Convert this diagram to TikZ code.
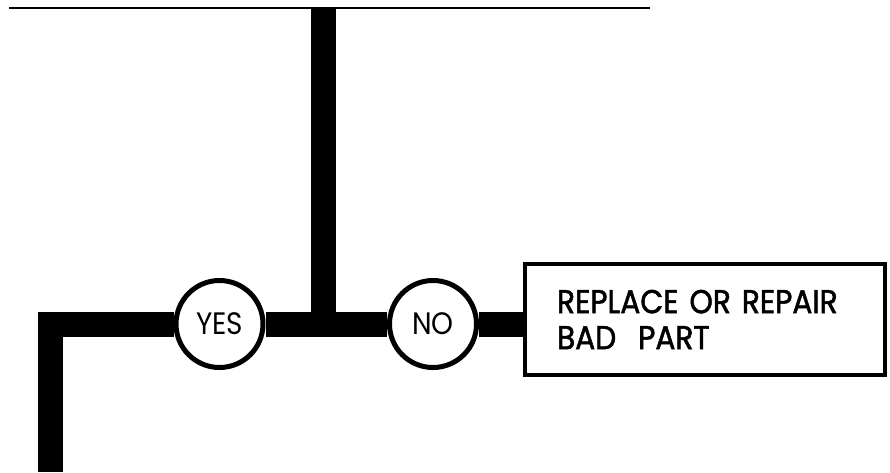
\documentclass[tikz,border=0pt]{standalone}
\usepackage{fontspec}
\setmainfont{Poppins}[FakeStretch=0.9]
\newfontfamily\boxfont{Poppins}[FakeBold=1.6,FakeStretch=0.9]
\usetikzlibrary{calc}

\begin{document}
\begin{tikzpicture}[x=1pt,y=-1pt,
  bar/.style={line width=25pt},
  answer/.style={circle,draw,fill=white,line width=5pt,minimum size=87pt,inner sep=0pt,
    font=\fontsize{31}{34}\selectfont},
  action/.style={draw,line width=4pt,minimum height=111pt,text width=296pt,inner xsep=32pt,
    align=left,font=\boxfont\fontsize{33}{36}\selectfont}]
\useasboundingbox (0,0) rectangle (890,472);
\coordinate (topL) at (9,8); \coordinate (topR) at (650,8);
\coordinate (top) at (323,8); \coordinate (junction) at (323,324);
\coordinate (bottom) at (50.5,472);
\node[answer] (yes) at (219.5,324) {YES};
\node[answer] (no) at (433,324) {NO};
\node[action,anchor=west] (repair) at (523,319.5) {REPLACE OR REPAIR\\BAD\ \ PART};
\draw[line width=2.5pt] (topL) -- (topR);
\draw[bar] (top) -- (junction);
\draw[bar] (bottom) |- (yes); \draw[bar] (yes) -- (no);
\draw[bar] (no) -- (no -| repair.west);
\end{tikzpicture}
\end{document}
